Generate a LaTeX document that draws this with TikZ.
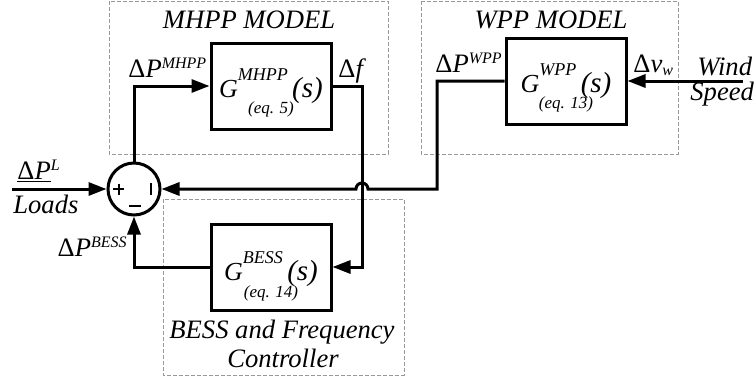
\documentclass[tikz,border=0pt]{standalone}
\usepackage{fontspec}
\setmainfont{Liberation Serif}
\usetikzlibrary{arrows.meta,calc}

% upright delta, raised/lowered indices for labels and transfer functions
\newcommand\dlt{\textup{Δ}}
\newcommand\lsup[1]{\raisebox{4.5pt}{\fontsize{8}{8}\selectfont #1}}
\newcommand\lsub[1]{\raisebox{-1.5pt}{\fontsize{8}{8}\selectfont #1}}
\newcommand\gsup[1]{\raisebox{8.5pt}{\fontsize{9}{9}\selectfont #1}}
\newcommand\sarg{\,{\fontsize{14.5}{15}\selectfont(s)}}

\begin{document}
\begin{tikzpicture}[x=0.5pt,y=-0.5pt,
  wire/.style={line width=1.5pt},
  arr/.style={wire,-{Triangle[length=9pt,width=6.5pt]}},
  block/.style={draw,line width=1.5pt,minimum width=60pt,minimum height=43pt,inner sep=0pt},
  group/.style={draw=black!40,line width=0.5pt,dash pattern=on 2pt off 1pt},
  lbl/.style={inner sep=0pt,font=\fontsize{13.3}{15}\selectfont\itshape},
  eqn/.style={inner sep=0pt,anchor=base,font=\fontsize{13}{15}\selectfont\itshape},
  eqref/.style={inner sep=0pt,anchor=base,font=\fontsize{8.5}{10}\selectfont\itshape},
  signbar/.style={line width=1pt},
]
\useasboundingbox (0,0) rectangle (756,381);

% model frames
\draw[group] (109,1) rectangle (388,154);
\draw[group] (421,1) rectangle (678,154);
\draw[group] (163,199) rectangle (404,375);

% frame titles
\node[lbl,anchor=base] (mhpptitle) at (249,28) {MHPP MODEL};
\node[lbl,anchor=base] (wpptitle) at (551,28) {WPP MODEL};
\node[lbl,anchor=base] (besstitle) at (282,338) {BESS and Frequency};
\node[lbl,anchor=base] (besstitleb) at (283,367) {Controller};

% transfer function blocks
\node[block] (mhpp) at (271,86) {};
\node[block] (bess) at (271,267) {};
\node[block] (wpp) at (566,81) {};

\node[eqn] (mhppG) at (271,97) {G\gsup{MHPP}\sarg};
\node[eqref] (mhppEq) at (271,113) {(eq. 5)};
\node[eqn] (bessG) at (271,280) {G\gsup{BESS}\sarg};
\node[eqref] (bessEq) at (271,297) {(eq. 14)};
\node[eqn] (wppG) at (566,92) {G\gsup{WPP}\sarg};
\node[eqref] (wppEq) at (566,108) {(eq. 13)};

% summing junction with its signs
\node[draw,circle,line width=1.5pt,minimum size=26pt,inner sep=0pt] (sum) at (134,189) {};
\draw[signbar] (113,189) -- (124,189);
\draw[signbar] (118.5,183.5) -- (118.5,194.5);
\draw[signbar] (151,183) -- (151,195);
\draw[signbar] (129,206) -- (141,206);

% signal labels
\node[lbl,anchor=base west] (lblL) at (17,179) {\underline{\dlt P}\lsup{L}};
\node[lbl,anchor=base west] (loads) at (13,213) {Loads};
\node[lbl,anchor=base east] (lblB) at (127,256) {\dlt P\lsup{BESS}};
\node[lbl,anchor=base west] (lblM) at (128,77) {\dlt P\lsup{MHPP}};
\node[lbl,anchor=base west] (lblf) at (338,77) {\dlt f};
\node[lbl,anchor=base west] (lblW) at (435,72) {\dlt P\lsup{WPP}};
\node[lbl,anchor=base west] (lblv) at (633,72) {\dlt v\lsub{w}};
\node[lbl,anchor=base west] (wind) at (697,75) {Wind};
\node[lbl,anchor=base west] (speed) at (690,100) {Speed};

% connectors
\coordinate (inL) at (12,189);
\coordinate (windin) at (743,81);
\coordinate (fx) at (362,0);
\coordinate (wx) at (437,0);

\draw[arr] (inL) -- (sum.west);
\draw[arr] (sum.north) |- (mhpp.west);
\draw[arr] (mhpp.east) -- (mhpp.east -| fx) |- (bess.east);
\draw[arr] (bess.west) -| (sum.south);
\draw[arr] (wpp.west) -| (wx |- sum.east)
  -- ($(fx |- sum.east)+(6,0)$) arc[start angle=0,end angle=180,radius=3pt]
  -- (sum.east);
\draw[arr] (windin) -- (wpp.east);
\end{tikzpicture}
\end{document}
